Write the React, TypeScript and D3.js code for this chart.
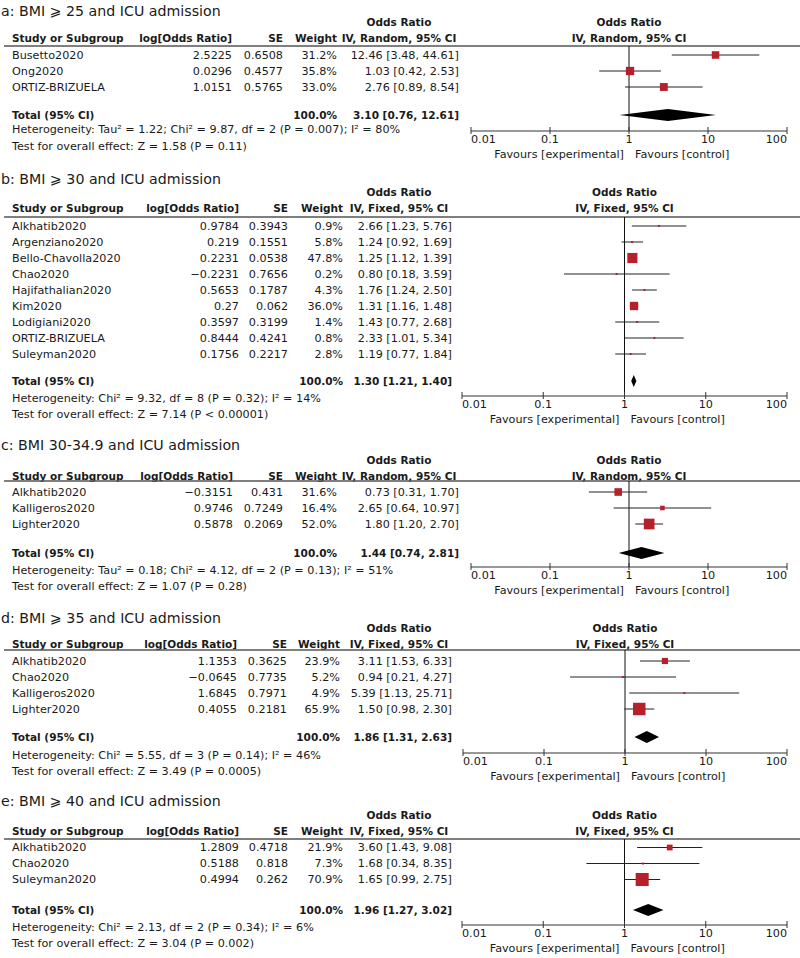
import React from "react";
import * as d3 from "d3";

// ---------- DATA ----------
const panelTitles = [
  "a: BMI ⩾ 25 and ICU admission",
  "b: BMI ⩾ 30 and ICU admission",
  "c: BMI 30-34.9 and ICU admission",
  "d: BMI ⩾ 35 and ICU admission",
  "e: BMI ⩾ 40 and ICU admission",
];
const panelMethods = ["Random", "Fixed", "Random", "Fixed", "Fixed"];

const studiesA = [
  { name: "Busetto2020", logOR: 2.5225, se: 0.6508, weight: 31.2, or: 12.46, lo: 3.48, hi: 44.61 },
  { name: "Ong2020", logOR: 0.0296, se: 0.4577, weight: 35.8, or: 1.03, lo: 0.42, hi: 2.53 },
  { name: "ORTIZ-BRIZUELA", logOR: 1.0151, se: 0.5765, weight: 33.0, or: 2.76, lo: 0.89, hi: 8.54 },
];
const studiesB = [
  { name: "Alkhatib2020", logOR: 0.9784, se: 0.3943, weight: 0.9, or: 2.66, lo: 1.23, hi: 5.76 },
  { name: "Argenziano2020", logOR: 0.219, se: 0.1551, weight: 5.8, or: 1.24, lo: 0.92, hi: 1.69 },
  { name: "Bello-Chavolla2020", logOR: 0.2231, se: 0.0538, weight: 47.8, or: 1.25, lo: 1.12, hi: 1.39 },
  { name: "Chao2020", logOR: -0.2231, se: 0.7656, weight: 0.2, or: 0.8, lo: 0.18, hi: 3.59 },
  { name: "Hajifathalian2020", logOR: 0.5653, se: 0.1787, weight: 4.3, or: 1.76, lo: 1.24, hi: 2.5 },
  { name: "Kim2020", logOR: 0.27, se: 0.062, weight: 36.0, or: 1.31, lo: 1.16, hi: 1.48 },
  { name: "Lodigiani2020", logOR: 0.3597, se: 0.3199, weight: 1.4, or: 1.43, lo: 0.77, hi: 2.68 },
  { name: "ORTIZ-BRIZUELA", logOR: 0.8444, se: 0.4241, weight: 0.8, or: 2.33, lo: 1.01, hi: 5.34 },
  { name: "Suleyman2020", logOR: 0.1756, se: 0.2217, weight: 2.8, or: 1.19, lo: 0.77, hi: 1.84 },
];
const studiesC = [
  { name: "Alkhatib2020", logOR: -0.3151, se: 0.431, weight: 31.6, or: 0.73, lo: 0.31, hi: 1.7 },
  { name: "Kalligeros2020", logOR: 0.9746, se: 0.7249, weight: 16.4, or: 2.65, lo: 0.64, hi: 10.97 },
  { name: "Lighter2020", logOR: 0.5878, se: 0.2069, weight: 52.0, or: 1.8, lo: 1.2, hi: 2.7 },
];
const studiesD = [
  { name: "Alkhatib2020", logOR: 1.1353, se: 0.3625, weight: 23.9, or: 3.11, lo: 1.53, hi: 6.33 },
  { name: "Chao2020", logOR: -0.0645, se: 0.7735, weight: 5.2, or: 0.94, lo: 0.21, hi: 4.27 },
  { name: "Kalligeros2020", logOR: 1.6845, se: 0.7971, weight: 4.9, or: 5.39, lo: 1.13, hi: 25.71 },
  { name: "Lighter2020", logOR: 0.4055, se: 0.2181, weight: 65.9, or: 1.5, lo: 0.98, hi: 2.3 },
];
const studiesE = [
  { name: "Alkhatib2020", logOR: 1.2809, se: 0.4718, weight: 21.9, or: 3.6, lo: 1.43, hi: 9.08 },
  { name: "Chao2020", logOR: 0.5188, se: 0.818, weight: 7.3, or: 1.68, lo: 0.34, hi: 8.35 },
  { name: "Suleyman2020", logOR: 0.4994, se: 0.262, weight: 70.9, or: 1.65, lo: 0.99, hi: 2.75 },
];
const panelStudies = [studiesA, studiesB, studiesC, studiesD, studiesE];

const totalOR = [3.1, 1.3, 1.44, 1.86, 1.96];
const totalLo = [0.76, 1.21, 0.74, 1.31, 1.27];
const totalHi = [12.61, 1.4, 2.81, 2.63, 3.02];

const heterogeneityText = [
  "Heterogeneity: Tau² = 1.22; Chi² = 9.87, df = 2 (P = 0.007); I² = 80%",
  "Heterogeneity: Chi² = 9.32, df = 8 (P = 0.32); I² = 14%",
  "Heterogeneity: Tau² = 0.18; Chi² = 4.12, df = 2 (P = 0.13); I² = 51%",
  "Heterogeneity: Chi² = 5.55, df = 3 (P = 0.14); I² = 46%",
  "Heterogeneity: Chi² = 2.13, df = 2 (P = 0.34); I² = 6%",
];
const overallText = [
  "Test for overall effect: Z = 1.58 (P = 0.11)",
  "Test for overall effect: Z = 7.14 (P < 0.00001)",
  "Test for overall effect: Z = 1.07 (P = 0.28)",
  "Test for overall effect: Z = 3.49 (P = 0.0005)",
  "Test for overall effect: Z = 3.04 (P = 0.002)",
];
const axisTicks = [0.01, 0.1, 1, 10, 100];
const axisTickLabels = ["0.01", "0.1", "1", "10", "100"];

// ---------- LAYOUT ----------
const layouts = [
  { titleY: 10.5, h1: 21.5, h2: 38, lineY: 46, rowY: 55, totalY: 115, hetY: 129.5, axisY: 131, cLog: 232, cSe: 283, cWt: 337, cOr: 459, ax0: 471 },
  { titleY: 179, h1: 192, h2: 208, lineY: 217, rowY: 226, totalY: 381, hetY: 398, axisY: 396, cLog: 239, cSe: 288, cWt: 343, cOr: 452, ax0: 462 },
  { titleY: 445, h1: 460, h2: 476, lineY: 481, rowY: 492, totalY: 553, hetY: 570, axisY: 567, cLog: 233, cSe: 283, cWt: 337, cOr: 459, ax0: 471 },
  { titleY: 618, h1: 628, h2: 644, lineY: 650, rowY: 661, totalY: 737, hetY: 755, axisY: 753, cLog: 237, cSe: 287, cWt: 340, cOr: 452, ax0: 463 },
  { titleY: 801, h1: 815, h2: 831, lineY: 839, rowY: 847.5, totalY: 910, hetY: 927, axisY: 925, cLog: 239, cSe: 288, cWt: 343, cOr: 452, ax0: 462 },
];
const AX1 = 787;
const ROW_H = 16;
const FONT = "'DejaVu Sans', Verdana, sans-serif";
const RED = "#b5202b";
const TXT = "#1a1a1a";

const fmtNum = (v: number) => String(v).replace("-", "\u2212");
const fmtCI = (o: number, l: number, h: number) => `${o.toFixed(2)} [${l.toFixed(2)}, ${h.toFixed(2)}]`;
const sqSide = (w: number) => Math.max(2, 1.94 * Math.sqrt(w) - 3.3);

function Panel({ idx }: { idx: number }) {
  const L = layouts[idx];
  const studies = panelStudies[idx];
  const x = d3.scaleLog().domain([0.01, 100]).range([L.ax0, AX1]);
  const x1 = x(1);
  const method = panelMethods[idx];
  const base = { fontFamily: FONT, fill: TXT, dominantBaseline: "central" as const };
  const reg = { ...base, fontSize: 11.2 };
  const bold = { ...base, fontSize: 10.5, fontWeight: "bold" as const };
  const dx0 = x(totalLo[idx]);
  const dx1 = x(totalHi[idx]);
  const dxm = x(totalOR[idx]);
  const dh = 6;
  return (
    <g>
      <text x={1} y={L.titleY} style={{ ...base, fontSize: 14.2 }}>{panelTitles[idx]}</text>
      {/* headers */}
      <text x={399} y={L.h1} textAnchor="middle" style={bold}>Odds Ratio</text>
      <text x={12} y={L.h2} style={bold}>Study or Subgroup</text>
      <text x={L.cLog} y={L.h2} textAnchor="end" style={bold}>log[Odds Ratio]</text>
      <text x={L.cSe} y={L.h2} textAnchor="end" style={bold}>SE</text>
      <text x={L.cWt} y={L.h2} textAnchor="end" style={bold}>Weight</text>
      <text x={399} y={L.h2} textAnchor="middle" style={bold}>{`IV, ${method}, 95% CI`}</text>
      <text x={(L.ax0 + AX1) / 2} y={L.h1} textAnchor="middle" style={bold}>Odds Ratio</text>
      <text x={(L.ax0 + AX1) / 2} y={L.h2} textAnchor="middle" style={bold}>{`IV, ${method}, 95% CI`}</text>
      <line x1={4} x2={800} y1={L.lineY} y2={L.lineY} stroke="#555" strokeWidth={1.3} />
      {/* no-effect line */}
      <line x1={x1} x2={x1} y1={L.lineY} y2={L.axisY} stroke="#111" strokeWidth={1} />
      {/* study rows */}
      {studies.map((s, i) => {
        const y = L.rowY + i * ROW_H;
        const side = sqSide(s.weight);
        return (
          <g key={i}>
            <text x={12} y={y} style={reg}>{s.name}</text>
            <text x={L.cLog} y={y} textAnchor="end" style={reg}>{fmtNum(s.logOR)}</text>
            <text x={L.cSe} y={y} textAnchor="end" style={reg}>{fmtNum(s.se)}</text>
            <text x={L.cWt} y={y} textAnchor="end" style={reg}>{`${s.weight.toFixed(1)}%`}</text>
            <text x={L.cOr} y={y} textAnchor="end" style={reg}>{fmtCI(s.or, s.lo, s.hi)}</text>
            <line x1={x(s.lo)} x2={x(s.hi)} y1={y} y2={y} stroke="#222" strokeWidth={1} />
            <rect x={x(s.or) - side / 2} y={y - side / 2} width={side} height={side} fill={RED} />
          </g>
        );
      })}
      {/* total */}
      <text x={12} y={L.totalY} style={bold}>Total (95% CI)</text>
      <text x={L.cWt} y={L.totalY} textAnchor="end" style={bold}>100.0%</text>
      <text x={L.cOr} y={L.totalY} textAnchor="end" style={bold}>{fmtCI(totalOR[idx], totalLo[idx], totalHi[idx])}</text>
      <path d={`M${dx0},${L.totalY} L${dxm},${L.totalY - dh} L${dx1},${L.totalY} L${dxm},${L.totalY + dh} Z`} fill="#000" />
      <text x={12} y={L.hetY} style={reg}>{heterogeneityText[idx]}</text>
      <text x={12} y={L.hetY + 16.5} style={reg}>{overallText[idx]}</text>
      {/* axis */}
      <line x1={L.ax0} x2={AX1} y1={L.axisY} y2={L.axisY} stroke="#333" strokeWidth={1} />
      {axisTicks.map((t, i) => (
        <g key={i}>
          <line x1={x(t)} x2={x(t)} y1={L.axisY - 4} y2={L.axisY + 3} stroke="#333" strokeWidth={1} />
          <text
            x={x(t)}
            y={L.axisY + 8.5}
            textAnchor={i === 0 ? "start" : i === axisTicks.length - 1 ? "end" : "middle"}
            style={reg}
          >
            {axisTickLabels[i]}
          </text>
        </g>
      ))}
      <text x={x1 - 5} y={L.axisY + 23} textAnchor="end" style={reg}>Favours [experimental]</text>
      <text x={x1 + 6} y={L.axisY + 23} textAnchor="start" style={reg}>Favours [control]</text>
    </g>
  );
}

export default function App() {
  return (
    <svg
      width={800}
      height={958}
      style={{ position: "absolute", left: 0, top: 0, background: "#fff" }}
    >
      <rect x={0} y={0} width={800} height={958} fill="#fff" />
      {panelTitles.map((_, i) => (
        <Panel key={i} idx={i} />
      ))}
    </svg>
  );
}
